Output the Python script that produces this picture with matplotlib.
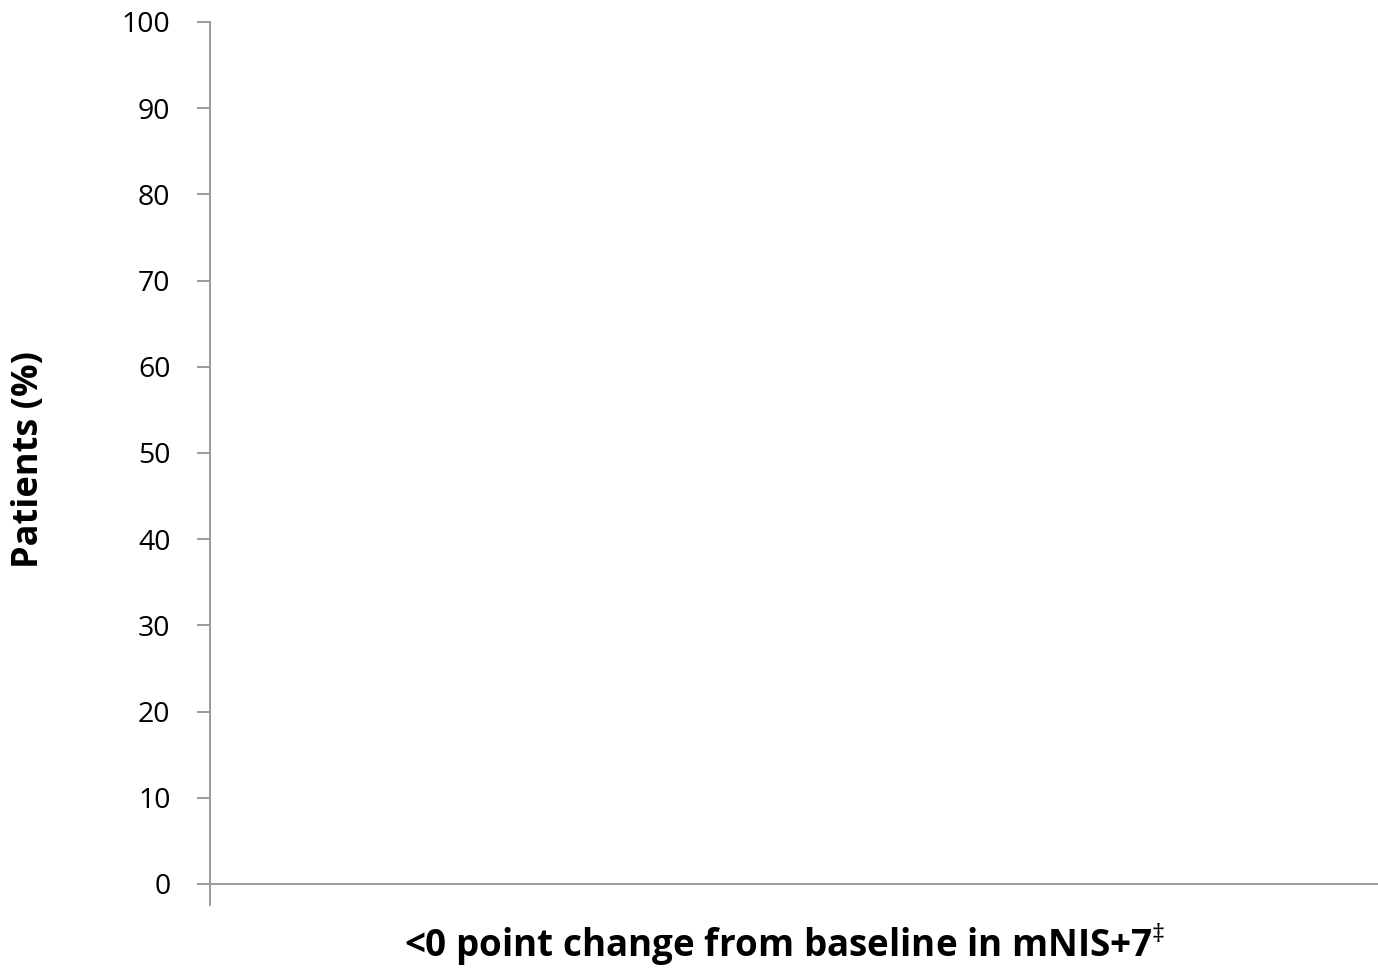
import matplotlib.pyplot as plt

# chart data: empty panel, only the axis scale
y_ticks = [0, 10, 20, 30, 40, 50, 60, 70, 80, 90, 100]
y_label = "Patients (%)"
x_label = "<0 point change from baseline in mNIS+7$^{\u2021}$"

plt.rcParams["font.family"] = ["Open Sans", "DejaVu Sans"]
plt.rcParams["mathtext.fontset"] = "custom"
plt.rcParams["mathtext.rm"] = "Open Sans"
grey = "#9a9a9a"

fig = plt.figure(figsize=(13.78, 9.76), dpi=100)
ax = fig.add_axes([210 / 1378, 1 - 905 / 976, 1 - 210 / 1378, 883 / 976])

ax.set_ylim(-2.44, 100)
ax.set_xlim(0, 1)
ax.set_yticks(y_ticks)
ax.set_yticklabels([str(v) for v in y_ticks], fontsize=20.5)
ax.set_xticks([])
ax.tick_params(axis="y", length=9.4, width=1.4, color=grey, pad=19)

for side in ["top", "right", "bottom"]:
    ax.spines[side].set_visible(False)
ax.spines["left"].set_color(grey)
ax.spines["left"].set_linewidth(1.4)
ax.axhline(0, color=grey, linewidth=1.4, clip_on=False)

fig.text(0.021, 1 - 460 / 976, y_label, rotation=90, fontsize=26,
         fontweight="bold", ha="center", va="center")
fig.text(785 / 1378, 1 - 945 / 976, x_label, fontsize=26.5, fontweight="bold",
         ha="center", va="center")

fig.savefig("out.png", dpi=100, facecolor="white")
